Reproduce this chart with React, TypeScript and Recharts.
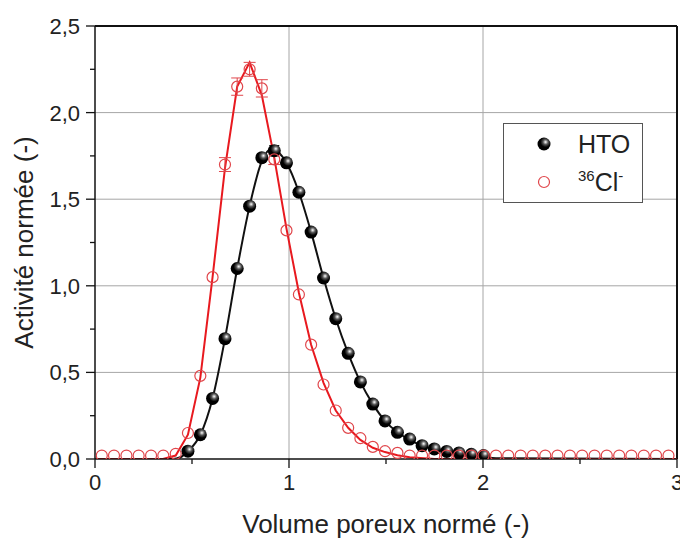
import {
  ComposedChart, Line, Scatter, XAxis, YAxis, ReferenceLine, ErrorBar, Legend,
} from 'recharts';

const FONT = '"Liberation Sans", Arial, sans-serif';
const RED = '#e8191f';
const RED_PT = '#e0464b';
const GRID = '#a6a6a6';

// shared sampling of the measured points (volume poreux normé)
const ptX = [
  0.035, 0.098, 0.162, 0.225, 0.289, 0.352, 0.416, 0.479, 0.543, 0.606,
  0.67, 0.733, 0.797, 0.86, 0.924, 0.987, 1.051, 1.114, 1.178, 1.241,
  1.305, 1.368, 1.432, 1.495, 1.559, 1.622, 1.686, 1.749, 1.813, 1.876,
  1.94, 2.003, 2.067, 2.13, 2.194, 2.257, 2.321, 2.384, 2.448, 2.511,
  2.575, 2.638, 2.702, 2.765, 2.829, 2.892, 2.956,
];
// 36Cl- measured activity
const clY = [
  0.02, 0.02, 0.02, 0.02, 0.02, 0.02, 0.03, 0.15, 0.48, 1.05,
  1.70, 2.15, 2.25, 2.14, 1.73, 1.32, 0.95, 0.66, 0.43, 0.28,
  0.18, 0.12, 0.07, 0.045, 0.035, 0.02, 0.02, 0.02, 0.02, 0.02,
  0.02, 0.02, 0.02, 0.02, 0.02, 0.02, 0.02, 0.02, 0.02, 0.02,
  0.02, 0.02, 0.02, 0.02, 0.02, 0.02, 0.02,
];
const clErr = [0, 0, 0, 0, 0, 0, 0, 0, 0, 0, 0.04, 0.05, 0.04, 0.05, 0.03];
// HTO measured activity (starts at the 8th sample)
const htoY = [
  0.045, 0.14, 0.35, 0.695, 1.10, 1.46, 1.74, 1.78, 1.71, 1.54,
  1.31, 1.045, 0.81, 0.61, 0.445, 0.317, 0.22, 0.154, 0.115, 0.077,
  0.058, 0.044, 0.035, 0.027, 0.02,
];
const htoErr = [0, 0, 0, 0, 0, 0, 0.02, 0.03, 0.02];

// fitted curves
const clFitX = [0, 0.35, 0.416, 0.479, 0.543, 0.606, 0.67, 0.733, 0.797, 0.86, 0.924, 0.987, 1.051, 1.114, 1.178, 1.241, 1.305, 1.368, 1.432, 1.495, 1.559, 1.622, 1.75, 3];
const clFitY = [0, 0, 0.02, 0.14, 0.47, 1.05, 1.68, 2.15, 2.29, 2.1, 1.74, 1.33, 0.96, 0.66, 0.44, 0.28, 0.18, 0.11, 0.065, 0.04, 0.022, 0.01, 0, 0];
const htoFitX = [0, 0.4, 0.44, 0.479, 0.543, 0.606, 0.67, 0.733, 0.797, 0.86, 0.91, 0.987, 1.051, 1.114, 1.178, 1.241, 1.305, 1.368, 1.432, 1.495, 1.559, 1.622, 1.686, 1.749, 1.813, 1.876, 1.94, 2.1, 3];
const htoFitY = [0, 0, 0.01, 0.045, 0.14, 0.35, 0.695, 1.1, 1.46, 1.72, 1.79, 1.71, 1.54, 1.31, 1.045, 0.81, 0.61, 0.445, 0.317, 0.22, 0.154, 0.11, 0.077, 0.056, 0.04, 0.028, 0.018, 0.004, 0];

const xTicks = [0, 0.5, 1, 1.5, 2, 2.5, 3];
const yTicks = [0, 0.25, 0.5, 0.75, 1, 1.25, 1.5, 1.75, 2, 2.25, 2.5];
const xGrid = [1, 2];
const yGrid = [0.5, 1, 1.5, 2];

const clPts = ptX.map((x, i) => ({ x, y: clY[i], e: clErr[i] }));
const htoPts = htoY.map((y, i) => ({ x: ptX[i + 7], y, e: htoErr[i] }));
const clFit = clFitX.map((x, i) => ({ x, y: clFitY[i] }));
const htoFit = htoFitX.map((x, i) => ({ x, y: htoFitY[i] }));

const TS = 9, TM = 6;

function YTick({ x, y, payload }: any) {
  const v = payload.value;
  const major = Math.abs(v * 2 - Math.round(v * 2)) < 1e-6;
  const ax = x + TS + TM;
  return (
    <g>
      <line x1={ax} x2={ax - (major ? TS : 5)} y1={y} y2={y} stroke="#111" strokeWidth={1.3} />
      {major && <text x={x} y={y} dy="0.36em" textAnchor="end" fontSize={22} fontFamily={FONT} fill="#222">{v.toFixed(1).replace('.', ',')}</text>}
    </g>
  );
}

function XTick({ x, y, payload }: any) {
  const v = payload.value;
  const major = Number.isInteger(v);
  const ay = y - TS - TM;
  return (
    <g>
      <line x1={x} x2={x} y1={ay} y2={ay + (major ? TS : 5)} stroke="#111" strokeWidth={1.3} />
      {major && <text x={x} y={y} dy="0.72em" textAnchor="middle" fontSize={22} fontFamily={FONT} fill="#222">{v}</text>}
    </g>
  );
}

function Ball({ cx, cy }: any) {
  return <circle cx={cx} cy={cy} r={6.5} fill="url(#ball)" />;
}
function Ring({ cx, cy }: any) {
  return <circle cx={cx} cy={cy} r={5.5} fill="none" stroke={RED_PT} strokeWidth={1.2} />;
}

function LegendBox() {
  return (
    <div style={{ width: 138, height: 78, border: '1px solid #555', background: '#fff', fontFamily: FONT, color: '#222', position: 'relative' }}>
      <svg width={138} height={78} style={{ position: 'absolute', left: 0, top: 0 }}>
        <defs>
          <radialGradient id="ballLeg" cx="62%" cy="35%" r="65%">
            <stop offset="0%" stopColor="#fff" />
            <stop offset="30%" stopColor="#555" />
            <stop offset="60%" stopColor="#000" />
          </radialGradient>
        </defs>
        <circle cx={40} cy={20} r={6.5} fill="url(#ballLeg)" />
        <circle cx={40} cy={58} r={5.5} fill="none" stroke={RED_PT} strokeWidth={1.2} />
        <text x={74} y={29} fontSize={25} fontFamily={FONT} fill="#222">HTO</text>
        <text x={74} y={67} fontSize={25} fontFamily={FONT} fill="#222">
          <tspan fontSize={15} dy={-10}>36</tspan>
          <tspan dy={10}>Cl</tspan>
          <tspan fontSize={15} dy={-10}>-</tspan>
        </text>
      </svg>
    </div>
  );
}

export default function App() {
  return (
    <div style={{ position: 'absolute', left: 0, top: 0, background: '#fff' }}>
      <ComposedChart width={680} height={540} margin={{ top: 26, right: 3, bottom: 0, left: 0 }}>
        <defs>
          <radialGradient id="ball" cx="62%" cy="35%" r="65%">
            <stop offset="0%" stopColor="#fff" />
            <stop offset="30%" stopColor="#555" />
            <stop offset="60%" stopColor="#000" />
          </radialGradient>
        </defs>
        <XAxis type="number" dataKey="x" domain={[0, 3]} ticks={xTicks} interval={0} height={81}
          axisLine={{ stroke: '#111', strokeWidth: 1.5 }} tickLine={false} tickSize={TS} tickMargin={TM} tick={<XTick />}
          allowDataOverflow
          label={{ value: 'Volume poreux normé (-)', position: 'insideBottom', offset: 7, fontSize: 26, fontFamily: FONT, fill: '#222' }} />
        <YAxis type="number" dataKey="y" domain={[0, 2.5]} ticks={yTicks} interval={0} width={95}
          axisLine={{ stroke: '#111', strokeWidth: 1.5 }} tickLine={false} tickSize={TS} tickMargin={TM} tick={<YTick />}
          allowDataOverflow
          label={(p: any) => {
            const vb = p.viewBox || {};
            const cx = (vb.x ?? 0) + 33;
            const cy = (vb.y ?? 26) + (vb.height ?? 433) / 2;
            return <text x={cx} y={cy} transform={`rotate(-90 ${cx} ${cy})`} textAnchor="middle" fontSize={26} fontFamily={FONT} fill="#222">Activité normée (-)</text>;
          }} />
        {yGrid.map((v) => <ReferenceLine key={'y' + v} y={v} stroke={GRID} strokeWidth={1} />)}
        {xGrid.map((v) => <ReferenceLine key={'x' + v} x={v} stroke={GRID} strokeWidth={1} />)}
        <ReferenceLine y={2.5} stroke="#111" strokeWidth={2} />
        <ReferenceLine x={3} stroke="#111" strokeWidth={2} />
        <Line data={htoFit} dataKey="y" type="monotone" stroke="#111" strokeWidth={2} dot={false} isAnimationActive={false} legendType="none" />
        <Scatter data={htoPts} dataKey="y" shape={<Ball />} isAnimationActive={false} legendType="none">
          <ErrorBar dataKey="e" direction="y" width={5} stroke="#111" strokeWidth={1} />
        </Scatter>
        <Line data={clFit} dataKey="y" type="linear" stroke={RED} strokeWidth={2} dot={false} isAnimationActive={false} legendType="none" />
        <Scatter data={clPts} dataKey="y" shape={<Ring />} isAnimationActive={false} legendType="none">
          <ErrorBar dataKey="e" direction="y" width={6} stroke={RED_PT} strokeWidth={1} />
        </Scatter>
        <Legend layout="vertical" align="center" verticalAlign="middle" content={<LegendBox />}
          wrapperStyle={{ left: 503, top: 123, width: 140, height: 80 }} />
      </ComposedChart>
    </div>
  );
}
